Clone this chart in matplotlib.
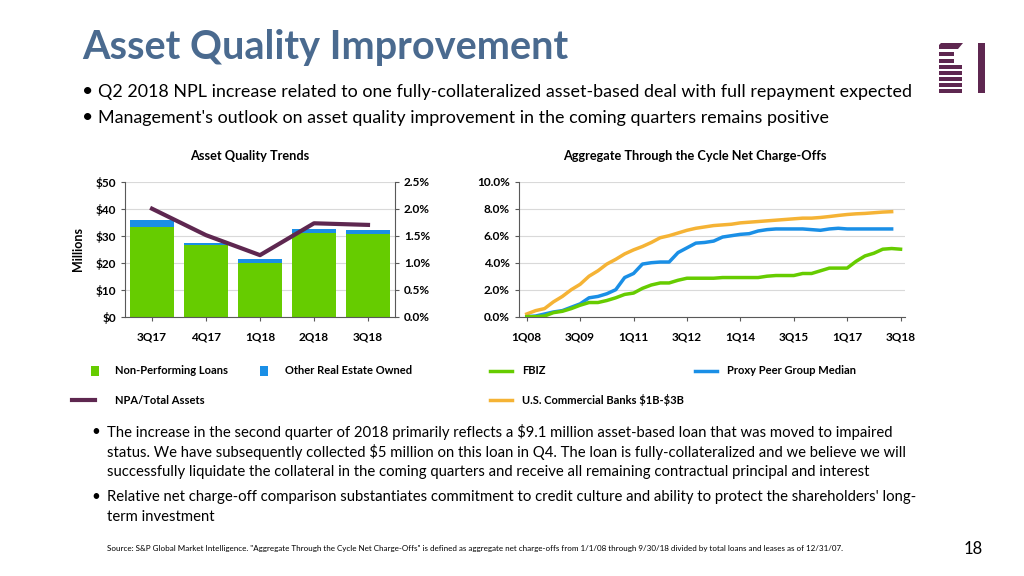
import matplotlib.pyplot as plt
from matplotlib.lines import Line2D
from matplotlib.patches import Rectangle, Polygon
from matplotlib.ticker import FuncFormatter

plt.rcParams['font.family'] = ['Lato', 'DejaVu Sans']

# left chart data ($ millions / percent)
quarters = ['3Q17', '4Q17', '1Q18', '2Q18', '3Q18']
npl = [33.3, 26.4, 19.9, 31.0, 30.5]
oreo = [2.5, 1.0, 1.6, 1.6, 1.6]
npa_ratio = [2.0, 1.51, 1.14, 1.73, 1.70]

# right chart data (cumulative NCO %, 1Q08 onward)
cycle_q = [f'{q}Q{y:02d}' for y in range(8, 19) for q in range(1, 5)][:43]
fbiz = [0.0, 0.0, 0.05, 0.3, 0.4, 0.6, 0.85, 1.05, 1.05, 1.2, 1.4, 1.65, 1.75,
        2.1, 2.35, 2.5, 2.5, 2.7, 2.85, 2.85, 2.85, 2.85, 2.9, 2.9, 2.9, 2.9,
        2.9, 3.0, 3.05, 3.05, 3.05, 3.2, 3.2, 3.4, 3.6, 3.6, 3.6, 4.1, 4.5,
        4.7, 5.0, 5.05, 5.0]
peer = [0.0, 0.05, 0.2, 0.35, 0.45, 0.7, 0.95, 1.4, 1.5, 1.7, 2.0, 2.9, 3.2,
        3.9, 4.0, 4.05, 4.05, 4.75, 5.1, 5.45, 5.5, 5.6, 5.9, 6.0, 6.1, 6.15,
        6.35, 6.45, 6.5, 6.5, 6.5, 6.5, 6.45, 6.4, 6.5, 6.55, 6.5, 6.5, 6.5,
        6.5, 6.5, 6.5]
banks = [0.2, 0.45, 0.6, 1.1, 1.5, 2.0, 2.4, 3.0, 3.4, 3.9, 4.25, 4.65, 4.95,
         5.2, 5.5, 5.85, 6.0, 6.2, 6.4, 6.55, 6.65, 6.75, 6.8, 6.85, 6.95, 7.0,
         7.05, 7.1, 7.15, 7.2, 7.25, 7.3, 7.3, 7.35, 7.42, 7.5, 7.57, 7.62,
         7.65, 7.7, 7.75, 7.78]

GREEN = '#66CC00'
BLUE = '#1A8FE6'
PURPLE = '#5E2750'
ORANGE = '#F5B335'
GRID = '#D9D9D9'
W, H = 1024, 576


def fx(x):
    return x / W


def fy(y):
    return 1 - y / H


fig = plt.figure(figsize=(10.24, 5.76), dpi=100)

# header
fig.text(fx(82), fy(47), 'Asset Quality Improvement', fontsize=28.5, fontweight='bold',
         color='#4A6A8F', va='center')
top_bullets = ['Q2 2018 NPL increase related to one fully-collateralized asset-based deal with full repayment expected',
               "Management's outlook on asset quality improvement in the coming quarters remains positive"]
for i, t in enumerate(top_bullets):
    y = 92 + 26 * i
    fig.text(fx(82), fy(y), '•', fontsize=14, va='center')
    fig.text(fx(98), fy(y), t, fontsize=12.9, va='center')

# logo
for x0, y0, w, h in [(939, 52, 15, 3.5), (939, 59, 15, 3.5), (939, 65, 23, 3.5), (939, 71, 23, 3.5),
                     (939, 77, 23, 3.5), (939, 83, 23, 3.5), (939, 89, 23, 3.5), (978, 43, 7, 50)]:
    fig.add_artist(Rectangle((fx(x0), fy(y0 + h)), w / W, h / H, transform=fig.transFigure,
                             color=PURPLE, lw=0))
fig.add_artist(Polygon([(fx(939), fy(49)), (fx(939), fy(45)), (fx(941), fy(43)), (fx(963), fy(43)),
                        (fx(958), fy(49))], closed=True, transform=fig.transFigure, color=PURPLE, lw=0))

# left chart
ax = fig.add_axes([fx(125), fy(316.7), 270 / W, 135 / H])
x = range(len(quarters))
ax.bar(x, npl, width=0.8, color=GREEN, zorder=2)
ax.bar(x, oreo, width=0.8, bottom=npl, color=BLUE, zorder=2)
ax.set_xlim(-0.5, 4.5)
ax.set_ylim(0, 50)
ax.set_yticks(range(0, 51, 10))
ax.yaxis.set_major_formatter(FuncFormatter(lambda v, p: f'${v:.0f}'))
ax.set_xticks(list(x))
ax.set_xticklabels(quarters)
ax.grid(axis='y', color=GRID, lw=0.8, zorder=0)
ax.set_ylabel('Millions', fontsize=9, fontweight='bold', labelpad=8)
fig.text(fx(250), fy(156), 'Asset Quality Trends', fontsize=9.2, fontweight='bold',
         ha='center', va='center')
ax2 = ax.twinx()
ax2.plot(x, npa_ratio, color=PURPLE, lw=3, zorder=3)
ax2.set_ylim(0, 2.5)
ax2.set_yticks([0, 0.5, 1.0, 1.5, 2.0, 2.5])
ax2.yaxis.set_major_formatter(FuncFormatter(lambda v, p: f'{v:.1f}%'))
for a in (ax, ax2):
    a.spines['top'].set_visible(False)
    a.tick_params(labelsize=8.5, length=3, color='#595959', width=0.8)
    for lab in a.get_xticklabels() + a.get_yticklabels():
        lab.set_fontweight('bold')
ax.spines['right'].set_visible(False)
ax2.spines['left'].set_visible(False)
ax2.spines['bottom'].set_visible(False)
ax.tick_params(axis='x', pad=8)
for s in ('left', 'bottom'):
    ax.spines[s].set_color('#595959')
ax2.spines['right'].set_color('#595959')

# right chart
bx = fig.add_axes([fx(519), fy(316.7), 386 / W, 135 / H])
idx = list(range(len(cycle_q)))
bx.plot(idx[:len(banks)], banks, color=ORANGE, lw=2.5, zorder=3)
bx.plot(idx[:len(peer)], peer, color=BLUE, lw=2.5, zorder=3)
bx.plot(idx[:len(fbiz)], fbiz, color=GREEN, lw=2.5, zorder=3)
bx.set_xlim(-0.87, 42.5)
bx.set_ylim(0, 10)
bx.set_yticks(range(0, 11, 2))
bx.yaxis.set_major_formatter(FuncFormatter(lambda v, p: f'{v:.1f}%'))
bx.set_xticks(idx[::6])
bx.set_xticklabels(cycle_q[::6])
bx.grid(axis='y', color=GRID, lw=0.8, zorder=0)
fig.text(fx(695), fy(156), 'Aggregate Through the Cycle Net Charge-Offs', fontsize=9.2,
         fontweight='bold', ha='center', va='center')
for s in ('top', 'right'):
    bx.spines[s].set_visible(False)
for s in ('left', 'bottom'):
    bx.spines[s].set_color('#595959')
bx.tick_params(labelsize=8.5, length=3, color='#595959', width=0.8)
bx.tick_params(axis='x', pad=8)
for lab in bx.get_xticklabels() + bx.get_yticklabels():
    lab.set_fontweight('bold')

# legends
leg_font = dict(fontsize=8, fontweight='bold', va='center')
for xs, y, c in [(95, 371, GREEN), (264, 371, BLUE)]:
    fig.add_artist(Rectangle((fx(xs - 4), fy(y + 5)), 8 / W, 10 / H, transform=fig.transFigure,
                             color=c, lw=0))
for (x0, x1), y, c, lw in [((72, 95), 400, PURPLE, 3), ((490, 512), 371, GREEN, 2.5),
                           ((695, 717), 371, BLUE, 2.5), ((490, 512), 400, ORANGE, 2.5)]:
    fig.add_artist(Line2D([fx(x0), fx(x1)], [fy(y), fy(y)], transform=fig.transFigure, color=c, lw=lw))
for xt, y, t in [(115, 371, 'Non-Performing Loans'), (285, 371, 'Other Real Estate Owned'),
                 (115, 400, 'NPA/Total Assets'), (522, 371, 'FBIZ'),
                 (727, 371, 'Proxy Peer Group Median'), (522, 400, r'U.S. Commercial Banks \$1B-\$3B')]:
    fig.text(fx(xt), fy(y), t, **leg_font)

# bottom bullets
bottom = [['The increase in the second quarter of 2018 primarily reflects a $9.1 million asset-based loan that was moved to impaired',
           'status. We have subsequently collected $5 million on this loan in Q4. The loan is fully-collateralized and we believe we will',
           'successfully liquidate the collateral in the coming quarters and receive all remaining contractual principal and interest'],
          ["Relative net charge-off comparison substantiates commitment to credit culture and ability to protect the shareholders' long-",
           'term investment']]
ys = [[432, 452, 472], [497, 517]]
for lines, yl in zip(bottom, ys):
    fig.text(fx(91), fy(yl[0]), '•', fontsize=11, va='center')
    for t, y in zip(lines, yl):
        fig.text(fx(107), fy(y), t.replace('$', r'\$'), fontsize=10.7, va='center')

fig.text(fx(107), fy(549), 'Source: S&P Global Market Intelligence. "Aggregate Through the Cycle Net Charge-Offs" is defined as '
         'aggregate net charge-offs from 1/1/08 through 9/30/18 divided by total loans and leases as of 12/31/07.',
         fontsize=5.8, va='center')
fig.text(fx(983), fy(549), '18', fontsize=12, ha='right', va='center')

fig.savefig('out.png', dpi=100)
